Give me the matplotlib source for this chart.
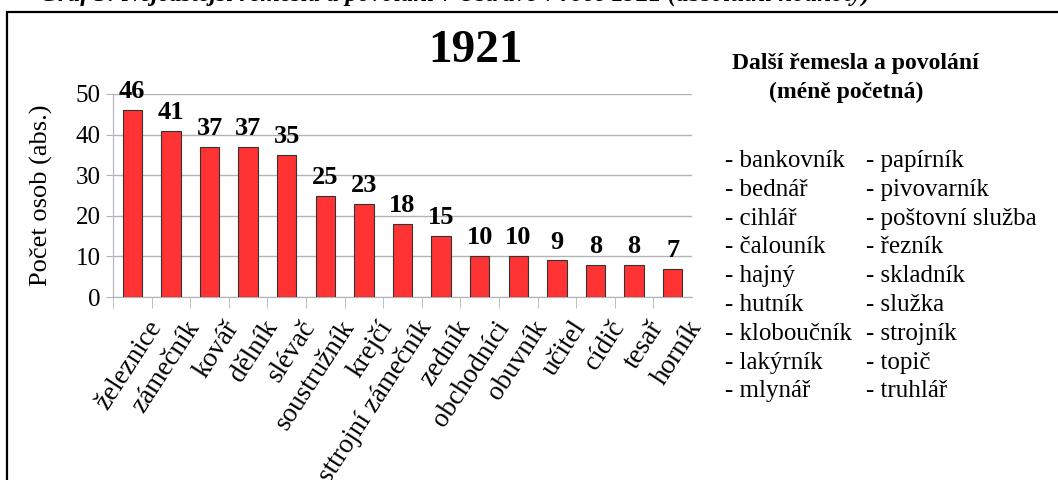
import matplotlib
matplotlib.use("Agg")
import matplotlib.pyplot as plt
import matplotlib.patches as patches
from matplotlib.transforms import ScaledTranslation
import numpy as np

plt.rcParams['font.family'] = ['Liberation Serif', 'DejaVu Serif']

# data
professions = ['železnice', 'zámečník', 'kovář', 'dělník', 'slévač', 'soustružník',
               'krejčí', 'sttrojní zámečník', 'zedník', 'obchodníci', 'obuvník',
               'učitel', 'cídič', 'tesař', 'horník']
counts = [46, 41, 37, 37, 35, 25, 23, 18, 15, 10, 10, 9, 8, 8, 7]
other_col1 = ['bankovník', 'bednář', 'cihlář', 'čalouník', 'hajný', 'hutník',
              'kloboučník', 'lakýrník', 'mlynář']
other_col2 = ['papírník', 'pivovarník', 'poštovní služba', 'řezník', 'skladník',
              'služka', 'strojník', 'topič', 'truhlář']
year = '1921'

W, H = 1058, 480
fig = plt.figure(figsize=(W / 100, H / 100), dpi=100)

# outer frame (cut at right and bottom like the source)
frame = patches.Rectangle((7 / W, -0.1), 1.2, 1.1 - 12 / H, transform=fig.transFigure,
                          fill=False, edgecolor='black', lw=1.6)
fig.add_artist(frame)

# caption above the frame, mostly cut off by the page edge
fig.text(870 / W, 1 - 1 / H,
         'Graf 3: Nejčastější řemesla a povolání v Ostravě v roce 1921 (absolutní hodnoty)',
         ha='right', va='baseline', fontsize=18, fontweight='bold', fontstyle='italic')

# plot area
x0, x1, ytop, ybot = 113, 692, 94, 297
ax = fig.add_axes([x0 / W, 1 - ybot / H, (x1 - x0) / W, (ybot - ytop) / H])
pos = np.arange(len(counts))
ax.bar(pos, counts, width=0.5, color='#ff3333', edgecolor='#333333', lw=0.8, zorder=3)
ax.set_xlim(-0.5, len(counts) - 0.5)
ax.set_ylim(0, 50)
ax.set_yticks(range(0, 51, 10))
ax.yaxis.grid(True, color='#b3b3b3', lw=1.0, zorder=0)
for s in ['top', 'right']:
    ax.spines[s].set_visible(False)
for s in ['left', 'bottom']:
    ax.spines[s].set_color('#b3b3b3')
ax.tick_params(axis='y', direction='out', length=5, color='#b3b3b3', labelsize=18, pad=4)

# category boundary ticks + rotated labels
ax.set_xticks(pos - 0.5, minor=True)
ax.tick_params(axis='x', which='minor', direction='out', length=8, color='#b3b3b3')
ax.set_xticks(pos)
ax.set_xticklabels(professions, rotation=57, ha='right', va='center',
                   rotation_mode='anchor', fontsize=19.5)
ax.tick_params(axis='x', which='major', length=0, pad=0)
for lab in ax.get_xticklabels():
    lab.set_transform(lab.get_transform() + ScaledTranslation(0.24, -0.26, fig.dpi_scale_trans))

ax.set_ylabel('Počet osob (abs.)', fontsize=19, labelpad=16)

for p, v in zip(pos, counts):
    ax.annotate(str(v), (p, v), xytext=(0, 5), textcoords='offset points',
                ha='center', va='bottom', fontsize=19, fontweight='bold')

fig.text(476 / W, 1 - 51 / H, year, ha='center', va='center', fontsize=34, fontweight='bold')

# side list of other professions
fig.text(855 / W, 1 - 63 / H, 'Další řemesla a povolání', ha='center', va='center',
         fontsize=17, fontweight='bold')
fig.text(846 / W, 1 - 92 / H, '(méně početná)', ha='center', va='center',
         fontsize=17, fontweight='bold')
for i, (a, b) in enumerate(zip(other_col1, other_col2)):
    yy = 1 - (161 + 28.8 * i) / H
    fig.text(725 / W, yy, '- ' + a, ha='left', va='center', fontsize=18)
    fig.text(866 / W, yy, '- ' + b, ha='left', va='center', fontsize=18)

fig.savefig('out.png', dpi=100)
